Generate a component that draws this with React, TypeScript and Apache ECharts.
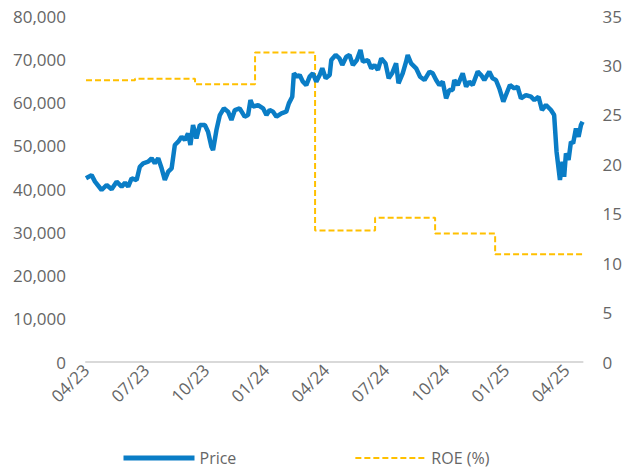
import React, { useEffect, useRef } from "react";
import * as echarts from "echarts";

// x positions are months after the start of April 2023
const tickLabels = ["04/23", "07/23", "10/23", "01/24", "04/24", "07/24", "10/24", "01/25", "04/25"];

const priceMonths = [
  0.0, 0.28, 0.45, 0.78, 1.03, 1.28, 1.53, 1.78, 1.95, 2.11, 2.28, 2.53, 2.69, 2.86, 3.11, 3.28, 3.44, 3.61, 3.78, 3.94,
  4.11, 4.28, 4.44, 4.61, 4.78, 4.94, 5.1, 5.22, 5.35, 5.52, 5.69, 5.94, 6.1, 6.27, 6.35, 6.52, 6.69, 6.89, 7.1, 7.27,
  7.44, 7.68, 7.93, 8.1, 8.22, 8.35, 8.6, 8.85, 9.02, 9.18, 9.35, 9.52, 9.77, 10.01, 10.14, 10.31, 10.39, 10.56, 10.68, 10.84,
  11.01, 11.18, 11.34, 11.51, 11.68, 11.81, 11.98, 12.18, 12.26, 12.48, 12.67, 12.81, 13.01, 13.17, 13.34, 13.54, 13.72, 13.84, 14.09, 14.26,
  14.42, 14.59, 14.76, 14.97, 15.13, 15.3, 15.5, 15.62, 15.83, 16.0, 16.08, 16.25, 16.5, 16.7, 16.92, 17.17, 17.33, 17.5, 17.66, 17.83,
  18.0, 18.16, 18.33, 18.41, 18.58, 18.83, 19.0, 19.16, 19.33, 19.58, 19.75, 19.91, 20.16, 20.32, 20.49, 20.66, 20.86, 20.99, 21.19, 21.41,
  21.57, 21.74, 21.99, 22.24, 22.41, 22.62, 22.79, 22.99, 23.24, 23.4, 23.52, 23.65, 23.69, 23.82, 23.9, 23.99, 24.12, 24.24, 24.35, 24.49,
  24.62, 24.74, 24.82,
];

const priceValues = [
  42470, 43200, 41700, 39770, 40920, 39930, 41690, 40530, 41460, 40530, 42470, 42080, 45150, 45940, 46310, 47090, 45940, 47090, 44780, 42080,
  44000, 44780, 50170, 50940, 52090, 51330, 52860, 50170, 54790, 51710, 54790, 54790, 53250, 49780, 49010, 53640, 57100, 58650, 57870, 55950,
  58260, 58650, 56720, 57100, 60570, 59030, 59420, 58650, 57100, 58260, 57870, 56720, 57490, 57870, 59800, 61340, 66740, 65970, 66350, 64810,
  64040, 65970, 66740, 64810, 66350, 67900, 65590, 66350, 69820, 70980, 70210, 68670, 70600, 70980, 68670, 69820, 72140, 69430, 69820, 67900,
  68670, 67520, 70210, 69050, 65590, 66740, 69050, 64430, 66740, 69430, 70980, 69050, 67900, 65970, 65200, 67130, 66740, 65200, 64040, 64810,
  60960, 62900, 62900, 65200, 64040, 66740, 63670, 64810, 64040, 67130, 66350, 65200, 67130, 65590, 65200, 63270, 60180, 61730, 64040, 63270,
  63670, 60960, 61730, 61340, 60570, 61340, 58260, 59420, 58260, 57100, 48620, 43630, 42080, 46310, 42840, 48230, 46700, 50940, 50560, 54020,
  52090, 54790, 55560,
];

const roeMonths = [0, 2.45, 5.45, 8.45, 11.45, 14.45, 17.45, 20.45, 24.82];
const roeValues = [28.5, 28.65, 28.1, 31.3, 13.3, 14.6, 13.0, 10.9, 10.9];

const FONT = "Open Sans";
const GREY = "#666666";

export default function App() {
  const ref = useRef<HTMLDivElement>(null);
  useEffect(() => {
    if (!ref.current) return;
    const chart = echarts.init(ref.current, undefined, { renderer: "svg" });
    const xMax = priceMonths[priceMonths.length - 1];
    chart.setOption({
      animation: false,
      textStyle: { fontFamily: FONT },
      grid: { left: 86, right: 42, top: 16, bottom: 107, containLabel: false },
      legend: {
        left: 116,
        top: 445,
        itemWidth: 71,
        itemHeight: 14,
        itemGap: 118,
        itemStyle: { opacity: 0 },
        textStyle: { fontFamily: FONT, fontSize: 16, color: GREY },
        data: [
          { name: "Price", lineStyle: { width: 5 } },
          { name: "ROE (%)", lineStyle: { width: 2 } },
        ],
      },
      xAxis: {
        type: "value",
        min: 0,
        max: xMax,
        interval: 3,
        splitLine: { show: false },
        axisTick: { show: false },
        axisLine: { show: true, lineStyle: { color: "#d9d9d9", width: 2 } },
        axisLabel: {
          rotate: 45,
          margin: 5,
          fontSize: 17,
          color: GREY,
          fontFamily: FONT,
          showMaxLabel: false,
          formatter: (v: number) => {
            const i = v / 3;
            return Number.isInteger(i) && tickLabels[i] ? tickLabels[i] : "";
          },
        },
      },
      yAxis: [
        {
          type: "value",
          min: 0,
          max: 80000,
          interval: 10000,
          splitLine: { show: false },
          axisLine: { show: false },
          axisTick: { show: false },
          axisLabel: {
            margin: 20,
            fontSize: 17,
            color: GREY,
            fontFamily: FONT,
            formatter: (v: number) => v.toLocaleString("en-US"),
          },
        },
        {
          type: "value",
          min: 0,
          max: 35,
          interval: 5,
          splitLine: { show: false },
          axisLine: { show: false },
          axisTick: { show: false },
          axisLabel: { margin: 20, fontSize: 17, color: GREY, fontFamily: FONT },
        },
      ],
      series: [
        {
          name: "Price",
          type: "line",
          yAxisIndex: 0,
          symbol: "none",
          showSymbol: false,
          lineStyle: { color: "#0a7dc6", width: 4.5 },
          itemStyle: { color: "#0a7dc6" },
          data: priceMonths.map((m, i) => [m, priceValues[i]]),
          z: 3,
        },
        {
          name: "ROE (%)",
          type: "line",
          yAxisIndex: 1,
          step: "end",
          symbol: "none",
          showSymbol: false,
          lineStyle: { color: "#ffc000", width: 2, type: [6, 3] },
          itemStyle: { color: "#ffc000" },
          data: roeMonths.map((m, i) => [m, roeValues[i]]),
          z: 2,
        },
      ],
    });
    return () => chart.dispose();
  }, []);
  return <div ref={ref} style={{ width: 625, height: 469, position: "absolute", left: 0, top: 0 }} />;
}
